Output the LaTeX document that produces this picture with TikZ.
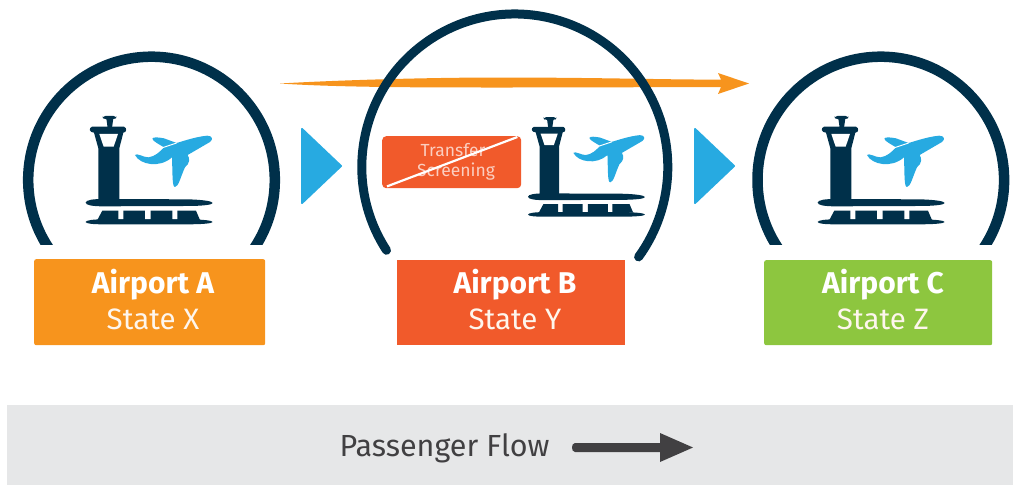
\documentclass[tikz,border=0pt]{standalone}
\usepackage{fontspec}
\usetikzlibrary{calc}
\setmainfont{Fira Sans}
\definecolor{navy}{HTML}{00304A}
\definecolor{sky}{HTML}{27AAE1}
\definecolor{amber}{HTML}{F7941D}
\definecolor{redor}{HTML}{F15A2B}
\definecolor{leaf}{HTML}{8DC63F}
\definecolor{band}{HTML}{E6E7E8}
\definecolor{ink}{HTML}{414042}
\tikzset{
  ring/.style={draw=navy,line width=10.5pt},
  ringb/.style={draw=navy,line width=9pt,line cap=round},
  chevron/.style={fill=sky,draw=sky,line width=2pt,line join=round},
  labelbox/.style={rounded corners=2pt},
  titletext/.style={text=white,font=\fontsize{30}{32}\selectfont\bfseries,inner sep=0pt},
  subtext/.style={text=white!92!amber,font=\fontsize{29.5}{32}\selectfont,inner sep=0pt},
  smalltext/.style={text=white!70!redor,font=\fontsize{17.5}{19}\selectfont,inner sep=0pt},
  airporticon/.pic={
    \fill[navy,rounded corners=3pt] (247,198) -- (290,198) -- (287,208) -- (250,208) -- cycle;
    \fill[navy] (259,205) -- (280,205) -- (276,234) -- (263,234) -- cycle;
    \fill[navy] (216,230) -- (312,230) .. controls (322,234) and (320,248) .. (310,248)
      -- (298,295) -- (298,452) -- (235,452) -- (235,295) -- (222,248)
      .. controls (208,248) and (205,234) .. (216,230) -- cycle;
    \fill[white] (238,252) -- (294,252) -- (281,290) -- (251,290) -- cycle;
    \fill[navy] (197,458) .. controls (197,450) and (220,447) .. (250,447) -- (500,448)
      .. controls (550,449) and (578,454) .. (578,459)
      .. controls (578,464) and (550,468) .. (500,468) -- (250,469)
      .. controls (220,469) and (197,466) .. (197,458) -- cycle;
    \fill[navy] (247,482) -- (295,482) -- (295,508) -- (310,508) -- (310,482) -- (375,482) -- (375,508)
      -- (392,508) -- (392,482) -- (457,482) -- (457,508) -- (472,508) -- (472,482) -- (528,482) -- (540,510)
      -- (232,510) -- cycle;
    \fill[navy] (197,516) .. controls (197,511) and (220,508) .. (250,508) -- (500,508)
      .. controls (550,508) and (578,512) .. (578,516)
      .. controls (578,520) and (550,523) .. (500,523) -- (250,523)
      .. controls (220,523) and (197,521) .. (197,516) -- cycle;
    \fill[sky] (345,315) .. controls (360,345) and (420,355) .. (456,322)
      .. controls (458,370) and (456,412) .. (465,411)
      .. controls (476,410) and (482,380) .. (495,352)
      .. controls (510,340) and (510,325) .. (503,315)
      -- (570,276) .. controls (580,268) and (578,258) .. (562,257)
      .. controls (530,260) and (500,270) .. (470,279)
      -- (432,265) .. controls (415,262) and (400,260) .. (397,266)
      .. controls (398,274) and (420,284) .. (432,292)
      .. controls (420,305) and (405,320) .. (385,322)
      .. controls (370,322) and (350,308) .. (345,315) -- cycle;
    \draw[white,line width=1pt] (425,294) -- (470,279);
  }
}
\begin{document}
\begin{tikzpicture}[x=1pt,y=-1pt]
\useasboundingbox (0,0) rectangle (1013,485);
% band
\node[fill=band,minimum width=1006pt,minimum height=80pt,inner sep=0pt,anchor=north west] (flowband) at (7,405) {};
\node[text=ink,font=\fontsize{30.5}{32}\selectfont,inner sep=0pt] (flowtext) at (444.5,448) {Passenger Flow};
\fill[ink] (575,443) -- (660,443) -- (660,433) -- (693,447.5) -- (660,462) -- (660,452) -- (575,452)
  .. controls (571,452) and (571,443) .. (575,443) -- cycle;
% orange arrow (below rings)
\fill[amber] (280,83.5) .. controls (340,80) and (430,77.5) .. (500,77.5) .. controls (600,77.5) and (680,80) .. (721,79.5)
  -- (718,73) -- (749,83.5) -- (718,94) -- (721,87) .. controls (680,87) and (600,87.5) .. (500,87.5)
  .. controls (430,87.5) and (340,87.5) .. (280,83.5) -- cycle;
% rings
\begin{scope}
\clip (0,0) rectangle (1013,244.5);
\draw[ring] (151.5,180) circle[radius=123.3];
\draw[ring] (880.8,180) circle[radius=123.3];
\end{scope}
\draw[ringb] (386.5,250.3) arc[start angle=147,end angle=396,radius=153];
% icons
\begin{scope}[shift={(20,50)},x=0.3333pt,y=-0.3333pt]
\pic {airporticon};
\end{scope}
\begin{scope}[shift={(467.6,56.3)},x=0.3067pt,y=-0.3067pt]
\pic {airporticon};
\end{scope}
\begin{scope}[shift={(752,50)},x=0.3333pt,y=-0.3333pt]
\pic {airporticon};
\end{scope}
% chevrons
\fill[chevron] (302,129) -- (341,166) -- (302,203) -- cycle;
\fill[chevron] (695,129) -- (734,166) -- (695,203) -- cycle;
% boxes
\node[labelbox,fill=amber,minimum width=231pt,minimum height=86pt,inner sep=0pt,anchor=north west] (boxa) at (34,259) {};
\node[fill=redor,minimum width=228pt,minimum height=85pt,inner sep=0pt,anchor=north west] (boxb) at (397,260) {};
\node[labelbox,fill=leaf,minimum width=228pt,minimum height=85pt,inner sep=0pt,anchor=north west] (boxc) at (764,260) {};
\node[titletext] at (153,284.5) {Airport A};
\node[subtext] at (153,319) {State X};
\node[titletext] at (515,284.5) {Airport B};
\node[subtext] at (515,319) {State Y};
\node[titletext] at (883,284.5) {Airport C};
\node[subtext] at (883,319) {State Z};
% transfer
\node[fill=redor,rounded corners=4pt,minimum width=139pt,minimum height=52pt,inner sep=0pt,anchor=north west] (tbox) at (382,136) {};
\node[smalltext] at (453,150) {Transfer};
\node[smalltext] at (456,172) {Screening};
\draw[white,line width=2.2pt] ($(tbox.north east)+(-4,1)$) -- ($(tbox.south west)+(5,-2)$);
\end{tikzpicture}
\end{document}
